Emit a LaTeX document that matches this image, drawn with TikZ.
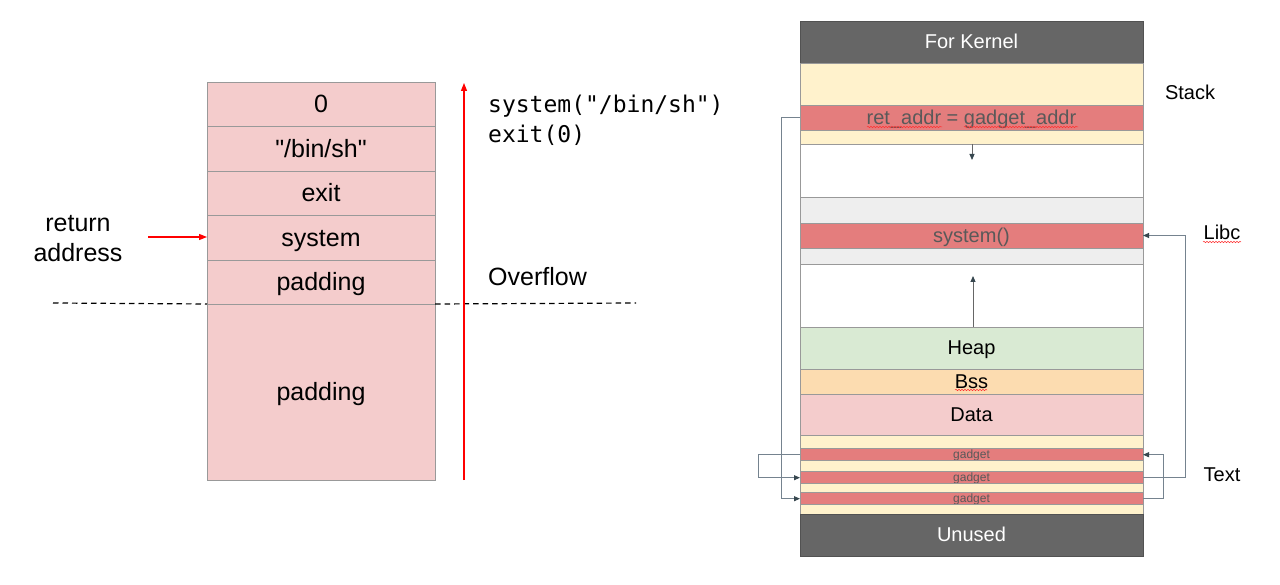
\documentclass[tikz,border=0pt]{standalone}
\usepackage{fontspec}
\setmainfont{Liberation Sans}[Ligatures=TeXOff]
\newfontfamily\codefont{DejaVu Sans Mono}[Ligatures=TeXOff]
\usetikzlibrary{arrows.meta,decorations.pathmorphing}
\definecolor{pinkfill}{HTML}{F4CCCC}
\definecolor{cellborder}{HTML}{999999}
\definecolor{kernelgray}{HTML}{666666}
\definecolor{yellowfill}{HTML}{FFF2CC}
\definecolor{redfill}{HTML}{E47D7D}
\definecolor{lgrayfill}{HTML}{EEEEEE}
\definecolor{greenfill}{HTML}{D9EAD3}
\definecolor{orangefill}{HTML}{FCDCB0}
\definecolor{redtext}{HTML}{595959}
\definecolor{linkcolor}{HTML}{75838F}
\definecolor{tipcolor}{HTML}{37474F}
\definecolor{arrowred}{HTML}{FF0000}
\begin{document}
\begin{tikzpicture}[x=1pt,y=-1pt,
  lcell/.style={draw=cellborder, line width=0.9pt, fill=pinkfill, inner sep=0pt, outer sep=0pt,
    anchor=north west, minimum width=228pt, font=\fontsize{25}{30}\selectfont,
    text height=22.6pt, text depth=5.3pt},
  rcell/.style={draw=cellborder, line width=0.9pt, inner sep=0pt, outer sep=0pt,
    anchor=north west, minimum width=343pt, font=\fontsize{20}{24}\selectfont,
    text height=18.1pt, text depth=4.2pt},
  gcell/.style={rcell, fill=redfill, text=redtext, font=\fontsize{12}{14}\selectfont,
    text height=10.9pt, text depth=2.5pt},
  link/.style={draw=linkcolor, line width=0.9pt, -{Triangle[length=6pt,width=5pt,color=tipcolor]}},
  redarrow/.style={draw=arrowred, line width=1.2pt, -{Triangle[length=8pt,width=6pt]}},
  dashline/.style={draw=black, line width=1.2pt, dash pattern=on 5.5pt off 4pt},
  label/.style={inner sep=0pt, font=\fontsize{20}{24}\selectfont},
  biglabel/.style={inner sep=0pt, font=\fontsize{25}{30}\selectfont},
  squiggle/.style={draw=red!80, line width=0.5pt, decorate, decoration={snake, amplitude=0.7pt, segment length=3pt}}
]
\useasboundingbox (0,0) rectangle (1280,585);

% ---------- left stack ----------
\node[lcell, minimum height=44pt] (l0) at (207,82) {0};
\node[lcell, minimum height=45pt] (l1) at (207,126) {"/bin/sh"};
\node[lcell, minimum height=44pt] (l2) at (207,171) {exit};
\node[lcell, minimum height=45pt] (l3) at (207,215) {system};
\node[lcell, minimum height=44pt] (l4) at (207,260) {padding};
\node[lcell, minimum height=176pt] (l5) at (207,304) {padding};

\node[biglabel, align=center] (ret) at (78,239) {return\\address};
\coordinate (retstart) at (148,237);
\draw[redarrow] (retstart) -- (retstart -| l3.west);

\coordinate (dl1) at (53,303);
\coordinate (dr2) at (636,303);
\draw[dashline] (dl1) -- (l5.north west);
\draw[dashline] (l5.north east) -- (dr2);

\coordinate (ovbot) at (464,480);
\coordinate (ovtop) at (464,83);
\draw[redarrow] (ovbot) -- (ovtop);

\node[inner sep=0pt, anchor=west, font=\codefont\fontsize{23}{30}\selectfont, align=left] (code) at (488,120)
  {system("/bin/sh")\\exit(0)};
\node[biglabel, anchor=west] (overflow) at (488,277) {Overflow};

% ---------- right memory map ----------
\node[rcell, fill=kernelgray, draw=kernelgray!80!black, text=white, minimum height=42pt] (kernel) at (800,21) {For Kernel};
\node[rcell, fill=yellowfill, minimum height=42pt] (stack) at (800,63) {};
\node[rcell, fill=redfill, text=redtext, minimum height=25pt] (retaddr) at (800,105) {ret\_addr = gadget\_addr};
\node[rcell, fill=yellowfill, minimum height=14pt] (y1) at (800,130) {};
\node[rcell, fill=white, minimum height=53pt] (w1) at (800,144) {};
\node[rcell, fill=lgrayfill, minimum height=26pt] (lg1) at (800,197) {};
\node[rcell, fill=redfill, text=redtext, minimum height=25pt] (system) at (800,223) {system()};
\node[rcell, fill=lgrayfill, minimum height=16pt] (lg2) at (800,248) {};
\node[rcell, fill=white, minimum height=63pt] (w2) at (800,264) {};
\node[rcell, fill=greenfill, minimum height=42pt] (heap) at (800,327) {Heap};
\node[rcell, fill=orangefill, minimum height=25pt] (bss) at (800,369) {Bss};
\node[rcell, fill=pinkfill, minimum height=41pt] (data) at (800,394) {Data};
\node[rcell, fill=yellowfill, minimum height=13pt] (y2) at (800,435) {};
\node[gcell, minimum height=12pt] (g1) at (800,448) {gadget};
\node[rcell, fill=yellowfill, minimum height=11pt] (y3) at (800,460) {};
\node[gcell, minimum height=12pt] (g2) at (800,471) {gadget};
\node[rcell, fill=yellowfill, minimum height=9pt] (y4) at (800,483) {};
\node[gcell, minimum height=12pt] (g3) at (800,492) {gadget};
\node[rcell, fill=yellowfill, minimum height=10pt] (y5) at (800,504) {};
\node[rcell, fill=kernelgray, draw=kernelgray!80!black, text=white, minimum height=42pt] (unused) at (800,514) {Unused};

% side labels
\node[label] (stacklbl) at (1190,92) {Stack};
\node[label] (libclbl) at (1222,232) {Libc};
\node[label] (textlbl) at (1222,475) {Text};

% growth arrows
\coordinate (downend) at (972,160);
\draw[link, draw=kernelgray] (w1.north -| downend) -- (downend);
\coordinate (upend) at (973,276);
\draw[link, draw=kernelgray] (w2.south -| upend) -- (upend);

% gadget chain
\draw[link] (retaddr.west) -- ++(-19,0) |- (g3.west);
\draw[link] (g1.west) -- ++(-42,0) |- (g2.west);
\draw[link] (g2.east) -- ++(42,0) |- (system.east);
\draw[link] (g3.east) -- ++(20,0) |- (g1.east);

% spell-check squiggles
\coordinate (sq1a) at (867,127); \coordinate (sq1b) at (942,127);
\coordinate (sq2a) at (964,127); \coordinate (sq2b) at (1078,127);
\coordinate (sq3a) at (955,390); \coordinate (sq3b) at (987,390);
\coordinate (sq4a) at (1203,242); \coordinate (sq4b) at (1241,242);
\draw[squiggle] (sq1a) -- (sq1b);
\draw[squiggle] (sq2a) -- (sq2b);
\draw[squiggle] (sq3a) -- (sq3b);
\draw[squiggle] (sq4a) -- (sq4b);
\end{tikzpicture}
\end{document}
